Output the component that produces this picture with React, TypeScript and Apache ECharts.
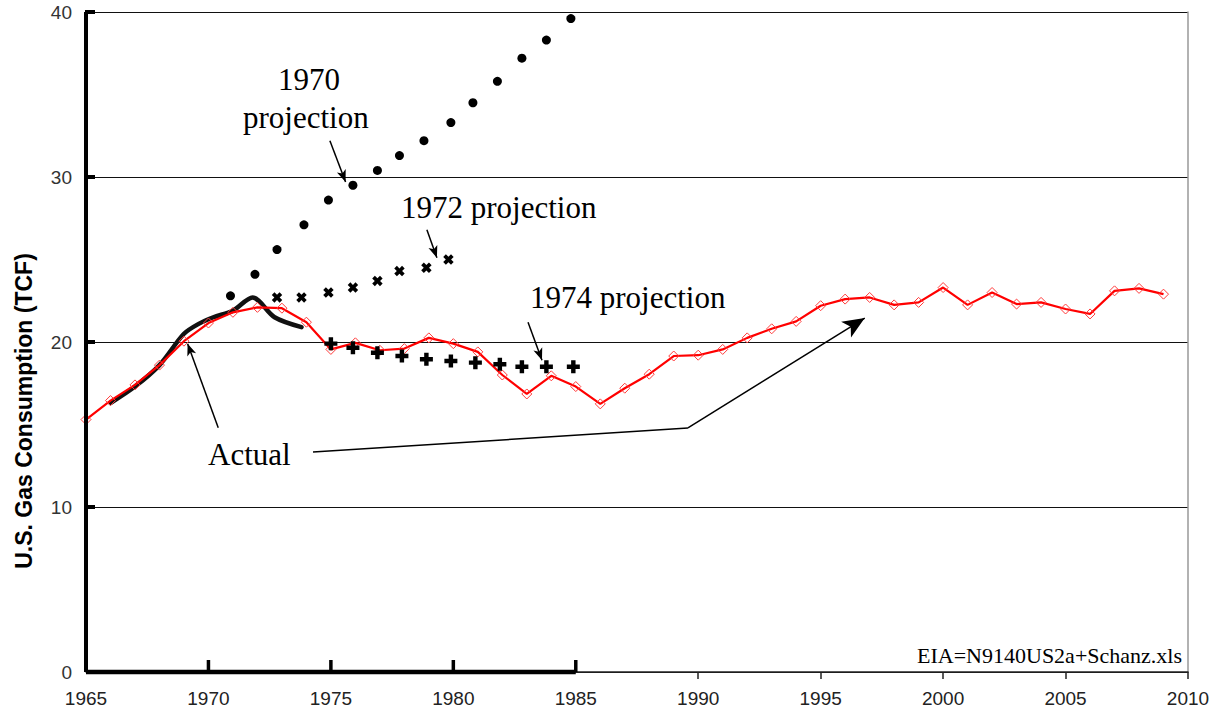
import React, { useEffect, useRef } from "react";
import * as echarts from "echarts";

// ---- Data ----
const years = [
  1965, 1966, 1967, 1968, 1969, 1970, 1971, 1972, 1973, 1974,
  1975, 1976, 1977, 1978, 1979, 1980, 1981, 1982, 1983, 1984,
  1985, 1986, 1987, 1988, 1989, 1990, 1991, 1992, 1993, 1994,
  1995, 1996, 1997, 1998, 1999, 2000, 2001, 2002, 2003, 2004,
  2005, 2006, 2007, 2008, 2009,
];
const actualValues = [
  15.3, 16.45, 17.4, 18.6, 20.05, 21.15, 21.8, 22.1, 22.05, 21.2,
  19.55, 19.95, 19.5, 19.6, 20.25, 19.9, 19.4, 18.0, 16.85, 17.95,
  17.3, 16.25, 17.2, 18.05, 19.15, 19.2, 19.55, 20.25, 20.8, 21.25,
  22.2, 22.6, 22.7, 22.25, 22.4, 23.3, 22.25, 23.0, 22.3, 22.4,
  22.0, 21.7, 23.1, 23.25, 22.9,
];

// hand-drawn black "actual" curve
const blackYears = [1966, 1967, 1968, 1969, 1969.6, 1970.2, 1971, 1971.8, 1972.7, 1973.8];
const blackValues = [16.3, 17.3, 18.6, 20.5, 21.1, 21.5, 21.9, 22.7, 21.5, 20.9];

// 1970 projection (dots)
const proj1970Years = [1970.9, 1971.9, 1972.8, 1973.9, 1974.9, 1975.9, 1976.9, 1977.8, 1978.8, 1979.9, 1980.8, 1981.8, 1982.8, 1983.8, 1984.8];
const proj1970Values = [22.8, 24.1, 25.6, 27.1, 28.6, 29.5, 30.4, 31.3, 32.2, 33.3, 34.5, 35.8, 37.2, 38.3, 39.6];

// 1972 projection (x marks)
const proj1972Years = [1972.8, 1973.8, 1974.9, 1975.9, 1976.9, 1977.8, 1978.9, 1979.8];
const proj1972Values = [22.7, 22.7, 23.0, 23.3, 23.7, 24.3, 24.5, 25.0];

// 1974 projection (plus marks)
const proj1974Years = [1975.0, 1975.9, 1976.9, 1977.9, 1978.9, 1979.9, 1980.9, 1981.9, 1982.8, 1983.8, 1984.9];
const proj1974Values = [19.9, 19.65, 19.35, 19.15, 18.95, 18.85, 18.75, 18.65, 18.5, 18.5, 18.5];

const xTickLabels = [1965, 1970, 1975, 1980, 1985, 1990, 1995, 2000, 2005, 2010];
const yTickLabels = [0, 10, 20, 30, 40];
const xOutTicks = [1990, 1995, 2000, 2005, 2010];
const xInTicks = [1970, 1975, 1980, 1985];

// annotation arrows, in data coordinates [from, to]
const arrow1970 = [[1974.96, 32.2], [1975.6, 29.7]];
const arrow1972 = [[1978.92, 26.8], [1979.33, 25.1]];
const arrow1974 = [[1983.05, 21.2], [1983.62, 18.9]];
const arrowActualA = [[1970.4, 14.8], [1969.15, 19.9]];
const arrowActualB = [[1974.27, 13.33], [1989.58, 14.79], [1996.8, 21.45]];

const serif = "'Liberation Serif', 'Times New Roman', serif";
const sans = "'Liberation Sans', Arial, sans-serif";

const PLUS = "path://M3.3,0H6.7V3.3H10V6.7H6.7V10H3.3V6.7H0V3.3H3.3Z";

function zip(xs: number[], ys: number[]) {
  return xs.map((x, i) => [x, ys[i]]);
}

export default function App() {
  const ref = useRef<HTMLDivElement>(null);

  useEffect(() => {
    if (!ref.current) return;
    const chart = echarts.init(ref.current, null, { renderer: "svg" });

    const arrowLineStyle = { type: "solid", color: "#000", width: 1.5 };
    const smallArrow = (seg: number[][]) => [
      { coord: seg[0], symbol: "none" },
      { coord: seg[1], symbol: "arrow", symbolSize: [7, 12] },
    ];

    const option: any = {
      animation: false,
      backgroundColor: "#fff",
      grid: { left: 86, right: 29, top: 12, bottom: 40, containLabel: false },
      xAxis: {
        type: "value",
        min: 1965,
        max: 2010,
        interval: 5,
        axisLine: { show: true, lineStyle: { color: "#222", width: 1.5 } },
        axisTick: {
          show: true,
          inside: false,
          length: 7,
          customValues: xOutTicks,
          lineStyle: { color: "#222", width: 1.5 },
        },
        axisLabel: {
          customValues: xTickLabels,
          fontSize: 19,
          color: "#222",
          fontFamily: sans,
          margin: 17,
          formatter: (v: number) => String(v),
        },
        splitLine: { show: false },
      },
      yAxis: [
        {
          type: "value",
          min: 0,
          max: 40,
          interval: 10,
          axisLine: { show: true, lineStyle: { color: "#666", width: 1 } },
          axisTick: { show: false },
          axisLabel: {
            customValues: yTickLabels,
            fontSize: 19,
            color: "#333",
            fontFamily: sans,
            margin: 14,
          },
          splitLine: { show: true, lineStyle: { color: "#111", width: 1.2 } },
        },
        {
          type: "value",
          min: 0,
          max: 40,
          interval: 10,
          position: "right",
          axisLine: { show: true, lineStyle: { color: "#999", width: 1.5 } },
          axisTick: { show: false },
          axisLabel: { show: false },
          splitLine: { show: false },
        },
      ],
      graphic: [
        {
          type: "text",
          x: 24,
          y: 411,
          rotation: Math.PI / 2,
          style: { text: "U.S. Gas Consumption (TCF)", fontSize: 23, fontWeight: "bold", fontFamily: sans, fill: "#000", align: "center", verticalAlign: "middle" },
        },
        { type: "text", x: 278, y: 79, style: { text: "1970", fontSize: 31, fontFamily: serif, fill: "#000", align: "left", verticalAlign: "middle" } },
        { type: "text", x: 243, y: 117, style: { text: "projection", fontSize: 31, fontFamily: serif, fill: "#000", align: "left", verticalAlign: "middle" } },
        { type: "text", x: 401, y: 207, style: { text: "1972 projection", fontSize: 31, fontFamily: serif, fill: "#000", align: "left", verticalAlign: "middle" } },
        { type: "text", x: 530, y: 297, style: { text: "1974 projection", fontSize: 31, fontFamily: serif, fill: "#000", align: "left", verticalAlign: "middle" } },
        { type: "text", x: 208, y: 454, style: { text: "Actual", fontSize: 31, fontFamily: serif, fill: "#000", align: "left", verticalAlign: "middle" } },
        { type: "text", x: 1182, y: 655, style: { text: "EIA=N9140US2a+Schanz.xls", fontSize: 22, fontFamily: serif, fill: "#000", align: "right", verticalAlign: "middle" } },
      ],
      series: [
        // hand-drawn thick left axis
        {
          type: "line",
          data: [[1965, 0], [1965, 40]],
          symbol: "none",
          clip: false,
          lineStyle: { color: "#000", width: 4 },
          z: 5,
        },
        {
          type: "scatter",
          data: yTickLabels.filter((v) => v > 0).map((v) => [1965, v]),
          symbol: "rect",
          symbolSize: [10, 4],
          symbolOffset: [4, 0],
          clip: false,
          itemStyle: { color: "#000", opacity: 1 },
          z: 5,
        },
        // hand-drawn thick bottom axis 1965-1985
        {
          type: "line",
          data: [[1965, 0], [1985, 0]],
          symbol: "none",
          clip: false,
          lineStyle: { color: "#000", width: 4.5 },
          z: 5,
        },
        {
          type: "scatter",
          data: xInTicks.map((v) => [v, 0]),
          symbol: "rect",
          symbolSize: [3.5, 12],
          symbolOffset: [0, -6],
          clip: false,
          itemStyle: { color: "#000", opacity: 1 },
          z: 5,
        },
        // black hand-drawn actual
        {
          name: "Actual (drawn)",
          type: "line",
          data: zip(blackYears, blackValues),
          symbol: "none",
          smooth: 0.3,
          lineStyle: { color: "#111", width: 4.5, cap: "round", join: "round" },
          z: 3,
        },
        // red actual with hollow diamonds
        {
          name: "Actual",
          type: "line",
          data: zip(years, actualValues),
          symbol: "diamond",
          symbolSize: 10,
          lineStyle: { color: "#ff0000", width: 2.2 },
          itemStyle: { color: "rgba(255,255,255,0)", borderColor: "#ff3b3b", borderWidth: 1 },
          z: 4,
        },
        {
          name: "1970 projection",
          type: "scatter",
          data: zip(proj1970Years, proj1970Values),
          symbol: "circle",
          symbolSize: 9,
          itemStyle: { color: "#000", opacity: 1 },
          z: 4,
        },
        {
          name: "1972 projection",
          type: "scatter",
          data: zip(proj1972Years, proj1972Values),
          symbol: PLUS,
          symbolSize: 11,
          symbolRotate: 45,
          itemStyle: { color: "#000", opacity: 1 },
          z: 4,
        },
        {
          name: "1974 projection",
          type: "scatter",
          data: zip(proj1974Years, proj1974Values),
          symbol: PLUS,
          symbolSize: 13,
          itemStyle: { color: "#000", opacity: 1 },
          z: 4,
        },
        // annotation arrows
        {
          type: "line",
          data: [],
          z: 6,
          markLine: {
            silent: true,
            animation: false,
            label: { show: false },
            lineStyle: arrowLineStyle,
            emphasis: { disabled: true },
            data: [
              smallArrow(arrow1970),
              smallArrow(arrow1972),
              smallArrow(arrow1974),
              smallArrow(arrowActualA),
              [
                { coord: arrowActualB[0], symbol: "none" },
                { coord: arrowActualB[1], symbol: "none" },
              ],
              [
                { coord: arrowActualB[1], symbol: "none" },
                { coord: arrowActualB[2], symbol: "arrow", symbolSize: [14, 22] },
              ],
            ],
          },
        },
      ],
    };

    chart.setOption(option);
    return () => chart.dispose();
  }, []);

  return (
    <div
      ref={ref}
      style={{ position: "fixed", left: 0, top: 0, width: 1217, height: 712, background: "#fff" }}
    />
  );
}
